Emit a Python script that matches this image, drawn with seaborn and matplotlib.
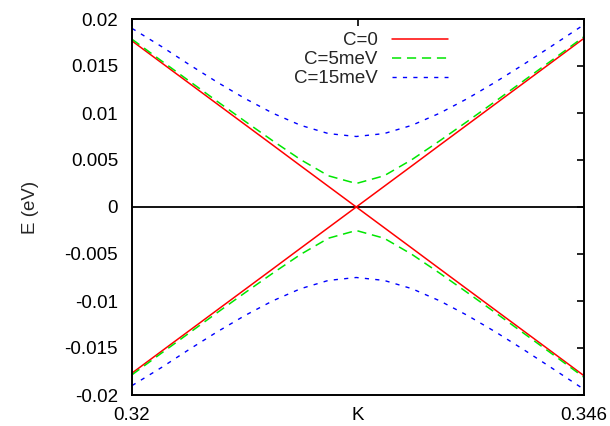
import numpy as np
import pandas as pd
import matplotlib
matplotlib.use("Agg")
import matplotlib.pyplot as plt
import seaborn as sns

# ---- data ----
k = [0.3200, 0.3217, 0.3233, 0.3249, 0.3265, 0.3281, 0.3297, 0.3313, 0.3329,
     0.3345, 0.3361, 0.3377, 0.3393, 0.3409, 0.3425, 0.3441, 0.3460]
e_c0 = [0.01767, 0.01534, 0.01315, 0.01096, 0.00877, 0.00658, 0.00438, 0.00219, 0.0,
        0.00219, 0.00438, 0.00658, 0.00877, 0.01096, 0.01315, 0.01534, 0.01795]
e_c5 = [0.01785, 0.01554, 0.01339, 0.01124, 0.00912, 0.00704, 0.00504, 0.00332, 0.0025,
        0.00332, 0.00504, 0.00704, 0.00912, 0.01124, 0.01339, 0.01554, 0.01812]
e_c15 = [0.01900, 0.01707, 0.01514, 0.01328, 0.01154, 0.00998, 0.00869, 0.00781, 0.0075,
         0.00781, 0.00869, 0.00998, 0.01154, 0.01328, 0.01514, 0.01707, 0.01940]
labels = ["C=0", "C=5meV", "C=15meV"]
xticks = [0.32, 0.333, 0.346]
xticklabels = ["0.32", "K", "0.346"]
yticks = [0.02, 0.015, 0.01, 0.005, 0.0, -0.005, -0.01, -0.015, -0.02]
yticklabels = ["0.02", "0.015", "0.01", "0.005", "0", "-0.005", "-0.01", "-0.015", "-0.02"]

sns.set_style("white")
plt.rcParams["font.family"] = ["Liberation Sans", "DejaVu Sans"]
FS = 13.5
plt.rcParams["font.size"] = FS

fig = plt.figure(figsize=(6.10, 4.26), dpi=100)
ax = fig.add_axes([132 / 610, 1 - 395 / 426, (584 - 132) / 610, (395 - 19) / 426])

ax.axhline(0, color="black", lw=1.3, zorder=1)

styles = [
    dict(color="#ff0000", lw=1.1, linestyle="-"),
    dict(color="#00e600", lw=1.1, linestyle=(0, (6.0, 3.8))),
    dict(color="#0000ff", lw=1.0, linestyle=(0, (3.0, 4.5))),
]
series = [e_c0, e_c5, e_c15]
for vals, lab, st in zip(series, labels, styles):
    up = pd.DataFrame({"k": k, "E": vals})
    dn = pd.DataFrame({"k": k, "E": [-v for v in vals]})
    sns.lineplot(data=up, x="k", y="E", ax=ax, label=lab, sort=False, estimator=None, **st)
    sns.lineplot(data=dn, x="k", y="E", ax=ax, label="_nolegend_", sort=False, estimator=None, **st)

ax.set_xlim(0.32, 0.346)
ax.set_ylim(-0.02, 0.02)
ax.set_xticks(xticks)
ax.set_xticklabels(xticklabels)
ax.set_yticks(yticks)
ax.set_yticklabels(yticklabels)
ax.set_xlabel("")
ax.set_ylabel("E (eV)", labelpad=18, fontsize=FS)
ax.tick_params(direction="in", length=5, width=1.2, top=True, right=True,
               labelsize=FS, colors="black")
ax.tick_params(axis="y", pad=10)
ax.tick_params(axis="x", pad=9)
for s in ax.spines.values():
    s.set_visible(True)
    s.set_color("black")
    s.set_linewidth(1.4)

leg = ax.legend(loc="upper right", bbox_to_anchor=(448 / 610, 1 - 32 / 426),
                bbox_transform=fig.transFigure, frameon=False, markerfirst=False,
                handlelength=3.0, handletextpad=0.75, labelspacing=0.1, borderpad=0,
                borderaxespad=0, fontsize=FS)

fig.savefig("out.png", dpi=100)
